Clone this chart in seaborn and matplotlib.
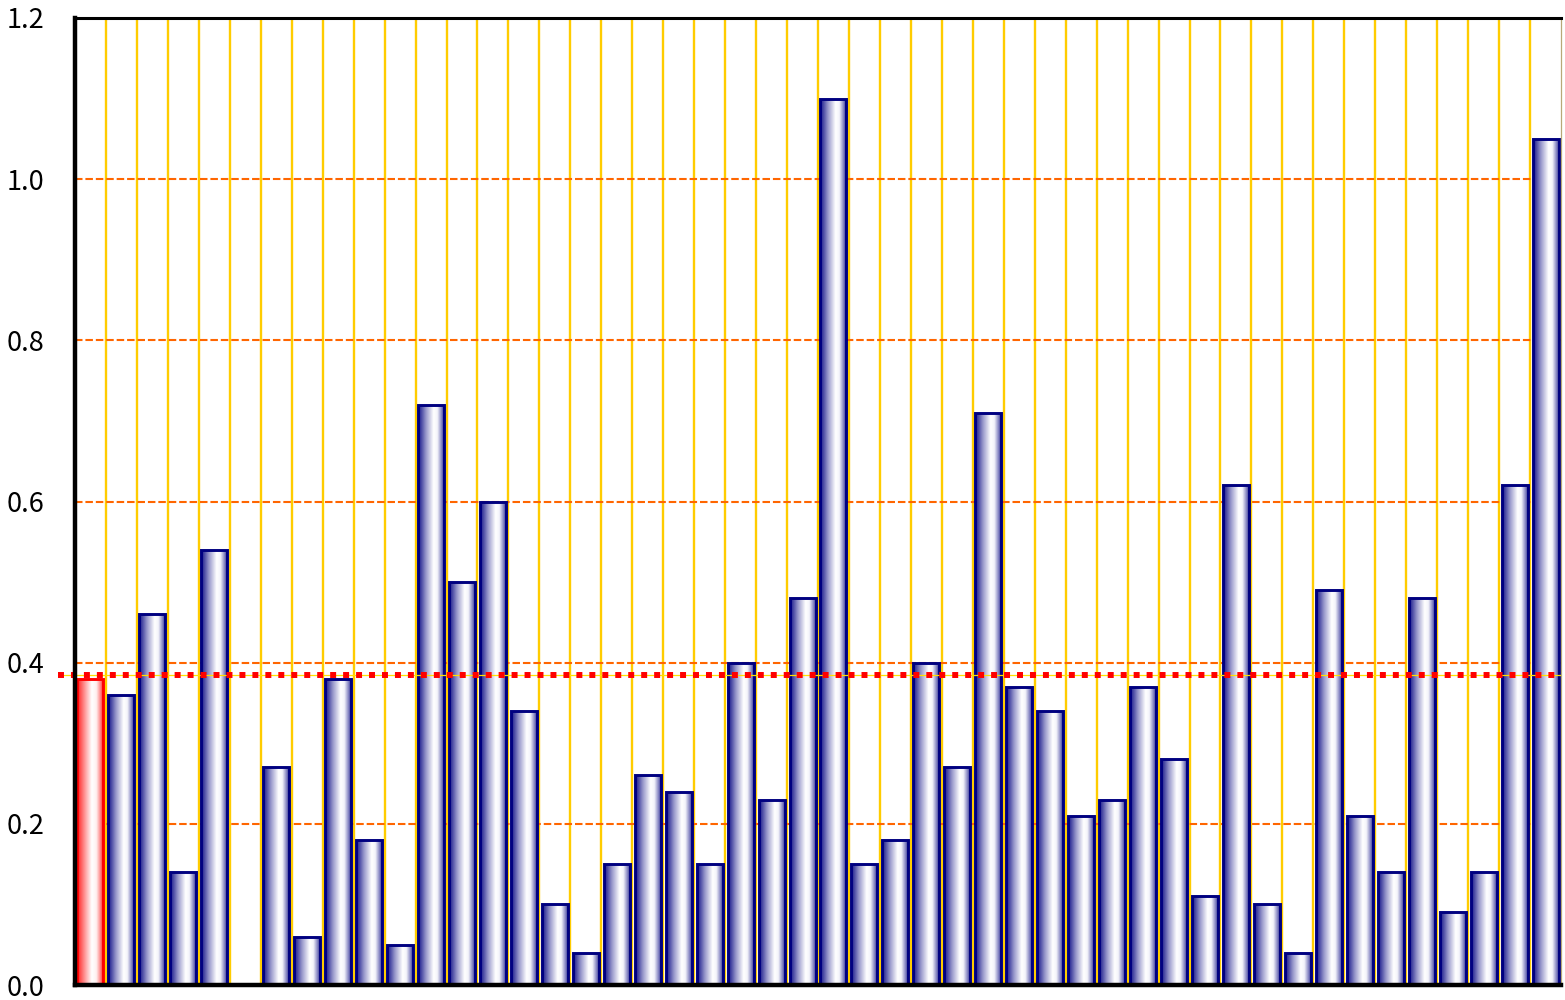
import numpy as np
import pandas as pd
import matplotlib
matplotlib.use("Agg")
import matplotlib.pyplot as plt
import matplotlib.transforms as mtransforms
from matplotlib.colors import LinearSegmentedColormap
import seaborn as sns

# ---------------- data ----------------
categories = [str(i) for i in range(1, 49)]
values = [0.38, 0.36, 0.46, 0.14, 0.54, 0.00, 0.27, 0.06, 0.38, 0.18,
          0.05, 0.72, 0.50, 0.60, 0.34, 0.10, 0.04, 0.15, 0.26, 0.24,
          0.15, 0.40, 0.23, 0.48, 1.10, 0.15, 0.18, 0.40, 0.27, 0.71,
          0.37, 0.34, 0.21, 0.23, 0.37, 0.28, 0.11, 0.62, 0.10, 0.04,
          0.49, 0.21, 0.14, 0.48, 0.09, 0.14, 0.62, 1.05]
highlight_category = "1"
reference_value = 0.385
ytick_values = [0.0, 0.2, 0.4, 0.6, 0.8, 1.0, 1.2]
ytick_labels = ["0.0", "0.2", "0.4", "0.6", "0.8", "1.0", "1.2"]

# ---------------- style ----------------
sns.set_theme(style="white")
plt.rcParams["font.family"] = ["Noto Sans CJK JP", "DejaVu Sans"]

W, H = 1565, 1000
fig = plt.figure(figsize=(W / 100, H / 100), dpi=100)
left_px, right_px, top_px, bottom_px = 75, 1561, 18, 985
ax = fig.add_axes([left_px / W, 1 - bottom_px / H,
                   (right_px - left_px) / W, (bottom_px - top_px) / H])

df = pd.DataFrame({"cat": categories, "val": values})
palette = {c: ("#FF0000" if c == highlight_category else "#000080") for c in categories}
sns.barplot(data=df, x="cat", y="val", hue="cat", palette=palette, legend=False,
            width=0.84, ax=ax, zorder=3, errorbar=None)

navy_cmap = LinearSegmentedColormap.from_list(
    "navygrad", [(0.0, "#10107e"), (0.08, "#34349a"), (0.30, "#9a9acc"),
                 (0.58, "#ffffff"), (0.72, "#f4f4fa"), (0.88, "#8080c0"),
                 (1.0, "#10107e")])
red_cmap = LinearSegmentedColormap.from_list(
    "redgrad", [(0.0, "#ff1010"), (0.12, "#ff5050"), (0.35, "#ffb0b0"),
                (0.55, "#ffffff"), (0.72, "#fff0f0"), (0.88, "#ff8080"),
                (1.0, "#ff1010")])
grad = np.linspace(0, 1, 256).reshape(1, -1)

for cont, cat in zip(ax.containers, categories):
    for patch in cont:
        h = patch.get_height()
        is_hl = cat == highlight_category
        edge = "#FF0000" if is_hl else "#000080"
        if not h or np.isnan(h):
            patch.set_visible(False)
            continue
        x0, w = patch.get_x(), patch.get_width()
        im = ax.imshow(grad, extent=[x0, x0 + w, 0, h], aspect="auto",
                       cmap=red_cmap if is_hl else navy_cmap,
                       interpolation="bilinear", zorder=3)
        im.set_clip_path(patch)
        patch.set_facecolor("none")
        patch.set_edgecolor(edge)
        patch.set_linewidth(2.1)
        patch.set_zorder(4)

ax.set_aspect("auto")
ax.set_xlim(-0.5, len(categories) - 0.5)
ax.set_ylim(0, 1.2)

# grids
ax.set_axisbelow(True)
ax.set_xticks(np.arange(0.5, len(categories) - 1, 1.0), minor=True)
ax.xaxis.grid(True, which="minor", color="#FFCC00", linewidth=1.7)
ax.xaxis.grid(False, which="major")
ax.set_yticks(ytick_values)
ax.set_yticklabels(ytick_labels)
ax.yaxis.grid(True, which="major", color="#FF6600", linewidth=1.5,
              linestyle=(0, (3.6, 1.4)))

ax.set_xlabel("")
ax.set_ylabel("")
ax.tick_params(axis="x", which="both", length=0, labelbottom=False)
ax.tick_params(axis="y", which="major", direction="in", length=5, width=2.5,
               color="black", labelsize=19.5, pad=22, labelcolor="black")

for side, lw, col in [("left", 3.2, "black"), ("bottom", 3.2, "black"),
                      ("top", 2.2, "black"), ("right", 0.9, "#b8a878")]:
    ax.spines[side].set_visible(True)
    ax.spines[side].set_linewidth(lw)
    ax.spines[side].set_color(col)
    ax.spines[side].set_zorder(6)

# reference line (dotted red with thin yellow core)
trans = mtransforms.blended_transform_factory(ax.transAxes, ax.transData)
ax.plot([-0.0115, 1.0], [reference_value, reference_value], transform=trans,
        color="#FFE000", linewidth=0.9, zorder=5, clip_on=False)
ax.plot([-0.0115, 1.0], [reference_value, reference_value], transform=trans,
        color="#FF0000", linewidth=4.3, linestyle=(0, (1.0, 1.17)),
        solid_capstyle="butt", dash_capstyle="butt", zorder=5, clip_on=False)

fig.savefig("out.png", dpi=100)
